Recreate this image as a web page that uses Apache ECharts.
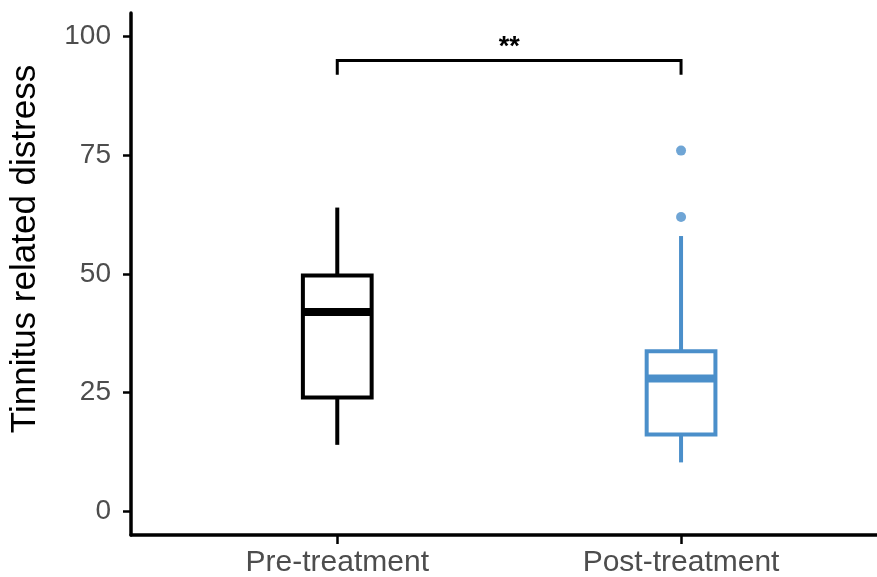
<!DOCTYPE html>
<html>
<head>
<meta charset="utf-8">
<script src="https://cdn.jsdelivr.net/npm/echarts@6/dist/echarts.min.js"></script>
<style>
html,body{margin:0;padding:0;background:#fff;}
#chart{width:877px;height:577px;}
</style>
</head>
<body>
<div id="chart"></div>
<script>
// ---- data ----
const categories = ['Pre-treatment', 'Post-treatment'];
// [whiskerLow, Q1, median, Q3, whiskerHigh]
const preStats  = [14, 24, 42, 49.7, 64];
const postStats = [10.3, 16.2, 28, 33.7, 58];
const postOutliers = [76, 62];
const yTicks = [0, 25, 50, 75, 100];
const sigFrom = 1, sigTo = 2, sigY = 95, sigTip = 92;
const sigLabel = '**';
const yTitle = 'Tinnitus related distress';

const colors = ['#000000', '#4b8fca'];

const boxData = [[1].concat(preStats), [2].concat(postStats)];
const outlierData = postOutliers.map(v => [2, v]);

const chart = echarts.init(document.getElementById('chart'), null, {renderer: 'canvas'});

function renderBox(params, api) {
  const x = api.value(0);
  const lo = api.value(1), q1 = api.value(2), med = api.value(3), q3 = api.value(4), hi = api.value(5);
  const c = colors[params.dataIndex];
  const half = 0.1;
  const pLo = api.coord([x, lo]), pQ1 = api.coord([x, q1]), pMed = api.coord([x, med]);
  const pQ3 = api.coord([x, q3]), pHi = api.coord([x, hi]);
  const left = api.coord([x - half, med])[0], right = api.coord([x + half, med])[0];
  const lw = 4;
  return {
    type: 'group',
    children: [
      {type: 'line', shape: {x1: pHi[0], y1: pHi[1], x2: pQ3[0], y2: pQ3[1]}, style: {stroke: c, lineWidth: lw}},
      {type: 'line', shape: {x1: pLo[0], y1: pLo[1], x2: pQ1[0], y2: pQ1[1]}, style: {stroke: c, lineWidth: lw}},
      {type: 'rect', shape: {x: left, y: pQ3[1], width: right - left, height: pQ1[1] - pQ3[1]},
        style: {fill: '#fff', stroke: c, lineWidth: lw, lineJoin: 'miter'}},
      {type: 'line', shape: {x1: left, y1: pMed[1], x2: right, y2: pMed[1]}, style: {stroke: c, lineWidth: 8}}
    ]
  };
}

function renderSig(params, api) {
  const a = api.coord([sigFrom, sigY]), b = api.coord([sigTo, sigY]);
  const ta = api.coord([sigFrom, sigTip]), tb = api.coord([sigTo, sigTip]);
  return {
    type: 'group',
    children: [
      {type: 'polyline', shape: {points: [[ta[0], ta[1]], [a[0], a[1]], [b[0], b[1]], [tb[0], tb[1]]]},
        style: {stroke: '#000', lineWidth: 3, fill: null, lineJoin: 'miter'}},
      {type: 'text', x: (a[0] + b[0]) / 2, y: a[1] + 1,
        style: {text: sigLabel, fill: '#000', font: 'bold 27px "Liberation Sans", Arial, sans-serif',
          align: 'center', verticalAlign: 'bottom'}}
    ]
  };
}

chart.setOption({
  animation: false,
  backgroundColor: '#fff',
  grid: {left: 131, right: 0, top: 13, bottom: 42, containLabel: false, outerBoundsMode: 'none'},
  xAxis: {
    type: 'value', min: 0.4, max: 2.57,
    axisLine: {show: true, onZero: false, lineStyle: {color: '#000', width: 3.5}},
    axisTick: {show: true, customValues: [1, 2], length: 9, lineStyle: {color: '#000', width: 2.5}},
    axisLabel: {show: true, customValues: [1, 2], formatter: v => categories[Math.round(v) - 1],
      color: '#4d4d4d', fontSize: 30, fontFamily: '"Liberation Sans", Arial, sans-serif', margin: 13},
    splitLine: {show: false}
  },
  yAxis: {
    type: 'value', min: -5, max: 105,
    name: yTitle, nameLocation: 'middle', nameRotate: 90, nameGap: 88,
    nameTextStyle: {color: '#000', fontSize: 35, fontFamily: '"Liberation Sans", Arial, sans-serif',
      padding: [0, 0, 0, 50]},
    axisLine: {show: true, onZero: false, lineStyle: {color: '#000', width: 3.5}},
    axisTick: {show: true, customValues: yTicks, length: 8, lineStyle: {color: '#000', width: 2.5}},
    axisLabel: {show: true, customValues: yTicks, color: '#4d4d4d', fontSize: 28,
      fontFamily: '"Liberation Sans", Arial, sans-serif', margin: 20},
    splitLine: {show: false}
  },
  series: [
    {type: 'custom', renderItem: renderBox, data: boxData, encode: {x: 0, y: [1, 2, 3, 4, 5]}, clip: false},
    {type: 'scatter', data: outlierData, symbol: 'circle', symbolSize: 10, itemStyle: {color: colors[1]}},
    {type: 'custom', renderItem: renderSig, data: [[sigFrom, sigY]], encode: {x: 0, y: 1}, clip: false}
  ]
});
</script>
</body>
</html>
